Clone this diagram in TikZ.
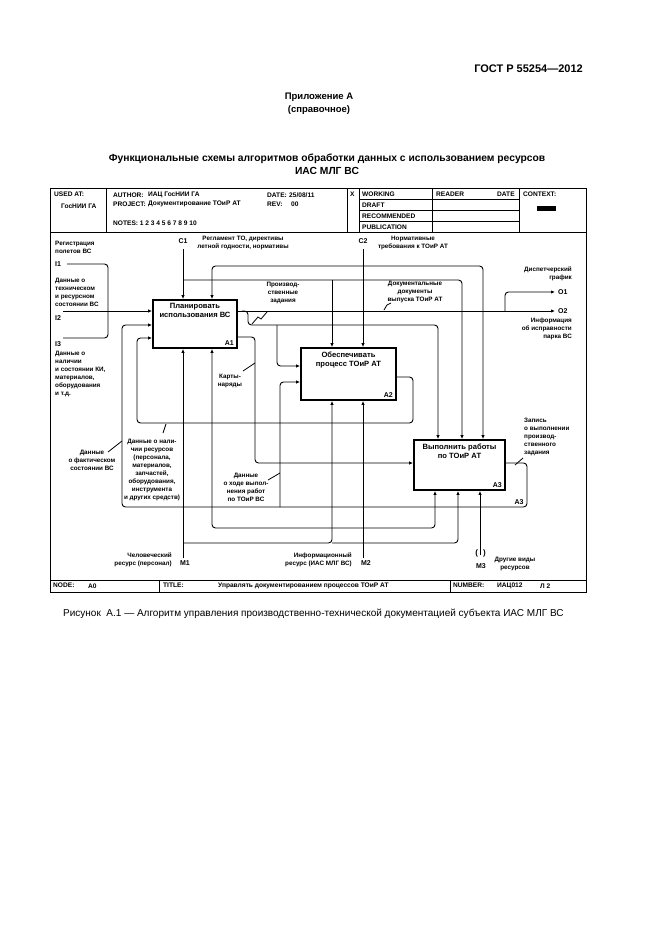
\documentclass[tikz,border=0pt]{standalone}
\usepackage{fontspec}
\setmainfont{Liberation Sans}
\usetikzlibrary{arrows.meta}
\begin{document}
\begin{tikzpicture}[x=1pt,y=-1pt,
  lbl/.style={font=\bfseries\fontsize{6.3}{8}\selectfont, inner sep=0pt, align=center},
  hdr/.style={font=\bfseries\fontsize{6.6}{7.5}\selectfont, inner sep=0pt, anchor=west},
  boxtxt/.style={font=\bfseries\fontsize{7.6}{9}\selectfont, inner sep=0pt, align=center},
  icom/.style={font=\bfseries\fontsize{7}{8}\selectfont, inner sep=0pt},
  box/.style={draw, line width=1.8pt, inner sep=0pt},
  flow/.style={line width=0.9pt, rounded corners=3.5pt},
  arr/.style={-{Latex[length=4pt,width=3.4pt]}},
  lead/.style={line width=0.8pt},
  frm/.style={line width=0.9pt}]
\path[fill=white, use as bounding box] (0,0) rectangle (661,935);

% ---------- page text ----------
\node[font=\bfseries\fontsize{11}{13}\selectfont, anchor=east, inner sep=0] (gost) at (583,69) {ГОСТ Р 55254—2012};
\node[font=\bfseries\fontsize{9.5}{13}\selectfont, align=center, inner sep=0] (app) at (319,103.5) {Приложение А\\(справочное)};
\node[font=\bfseries\fontsize{10.3}{13}\selectfont, align=center, inner sep=0] (title) at (327,164.5) {Функциональные схемы алгоритмов обработки данных с использованием ресурсов\\ИАС МЛГ ВС};
\node[font=\fontsize{10}{12}\selectfont, anchor=west, inner sep=0] (cap) at (63,614) {Рисунок~~А.1 — Алгоритм управления производственно-технической документацией субъекта ИАС МЛГ ВС};

% ---------- frame ----------
\draw[frm] (50,188) rectangle (586,592);
\draw[frm] (50,232) -- (586,232);
\foreach \xx in {106,347,359,432,519} \draw[frm] (\xx,188) -- (\xx,232);
\foreach \yy in {199.5,210.5,221.5} \draw[frm] (359,\yy) -- (519,\yy);
\draw[frm] (50,580) -- (586,580);
\draw[frm] (159,580) -- (159,592);
\draw[frm] (450,580) -- (450,592);

\node[hdr] (h1) at (54,194) {USED AT:};
\node[hdr] (h2) at (61,206) {ГосНИИ ГА};
\node[hdr] (h3) at (113,195) {AUTHOR:};
\node[hdr] (h4) at (148,195) {ИАЦ ГосНИИ ГА};
\node[hdr] (h5) at (113,204) {PROJECT:};
\node[hdr] (h6) at (148,204) {Документирование ТОиР АТ};
\node[hdr] (h7) at (113,223) {NOTES: 1 2 3 4 5 6 7 8 9 10};
\node[hdr] (h8) at (267,195) {DATE:};
\node[hdr] (h9) at (289,195) {25/08/11};
\node[hdr] (h10) at (267,204) {REV:};
\node[hdr] (h11) at (291,204) {00};
\node[hdr] (h12) at (350,194) {X};
\node[hdr] (h13) at (362,194) {WORKING};
\node[hdr] (h14) at (362,205) {DRAFT};
\node[hdr] (h15) at (362,216) {RECOMMENDED};
\node[hdr] (h16) at (362,227) {PUBLICATION};
\node[hdr] (h17) at (436,194) {READER};
\node[hdr] (h18) at (497,194) {DATE};
\node[hdr] (h19) at (523,194) {CONTEXT:};
\fill (537,206) rectangle (556,211);
\node[hdr] (b1) at (53,585.5) {NODE:};
\node[hdr] (b2) at (88,586) {A0};
\node[hdr] (b3) at (163,585.5) {TITLE:};
\node[hdr] (b4) at (218,586) {Управлять документированием процессов ТОиР АТ};
\node[hdr] (b5) at (453,585.5) {NUMBER:};
\node[hdr] (b6) at (497,586) {ИАЦ012};
\node[hdr] (b7) at (540,586) {Л 2};

% ---------- boxes ----------
\node[box, minimum width=84pt, minimum height=48pt] (A1) at (195,324) {};
\node[boxtxt, anchor=north] (A1t) at (195,303) {Планировать\\использования ВС};
\node[icom, anchor=south east] (A1n) at (234,346) {A1};
\node[box, minimum width=95pt, minimum height=52pt] (A2) at (348.5,374) {};
\node[boxtxt, anchor=north] (A2t) at (348.5,352) {Обеспечивать\\процесс ТОиР АТ};
\node[icom, anchor=south east] (A2n) at (393,398) {A2};
\node[box, minimum width=91pt, minimum height=50pt] (A3) at (459.5,465) {};
\node[boxtxt, anchor=north] (A3t) at (459.5,444) {Выполнить работы\\по ТОиР АТ};
\node[icom, anchor=south east] (A3n) at (502,488) {A3};

% ---------- helper coordinates ----------
\coordinate (xa1c2) at (212,0);
\coordinate (xa2c1) at (332,0);
\coordinate (xa3p) at (438,0);
\coordinate (xa3c1) at (462,0);
\coordinate (xa3c2) at (483,0);
\coordinate (xa1m2) at (212,0);
\coordinate (xa2m1) at (332,0);
\coordinate (xa3m2) at (435,0);
\coordinate (xa3m1) at (458,0);
\coordinate (xk) at (255,0);
\coordinate (xl2) at (413,0);
\coordinate (xr2) at (137,0);
\coordinate (xl3) at (527,0);
\coordinate (xr3) at (122,0);
\coordinate (xb) at (280,0);
\coordinate (xm) at (108,0);
\coordinate (a1i2) at (0,325);
\coordinate (a1i3) at (0,338);
\coordinate (a1o2) at (0,337);
\coordinate (a2i1) at (0,366);
\coordinate (a2i2) at (0,382);
\coordinate (a2o) at (0,377);
\coordinate (a3i) at (0,463);
\coordinate (a3o) at (0,463);
\coordinate (yl2) at (0,423);
\coordinate (yl3) at (0,507);
\coordinate (ym2) at (0,528);
\coordinate (ym1) at (0,543);

% ---------- controls ----------
\coordinate (C1s) at (183,249);
\coordinate (C1j) at (183,280);
\draw[flow,arr] (C1s) -- (A1.north -| C1s);
\draw[flow,arr] (C1j) -| (A3.north -| xa3c1);
\draw[flow,arr] (C1j -| xa2c1) -- (A2.north -| xa2c1);
\coordinate (C2s) at (363,249);
\coordinate (C2j) at (363,266);
\draw[flow,arr] (C2s) -- (A2.north -| C2s);
\draw[flow,arr] (C2j) -| (A1.north -| xa1c2);
\draw[flow,arr] (C2j) -| (A3.north -| xa3c2);

% ---------- inputs ----------
\coordinate (I1s) at (67,264);
\coordinate (I2s) at (63,311);
\coordinate (I3s) at (63,338);
\draw[flow,arr] (I2s) -- (A1.west |- I2s);
\draw[flow] (I1s) -| (xm |- I2s);
\draw[flow] (I3s) -| (xm |- I2s);

% ---------- outputs of A1 ----------
\coordinate (O2e) at (555,311);
\coordinate (O1e) at (555,292);
\coordinate (oj) at (505,311);
\draw[flow,arr] (A1.east |- O2e) -- (O2e);
\draw[flow,arr] (oj) |- (O1e);
\coordinate (pz) at (242,311);
\draw[flow,arr] (pz) -- (248,311) -- (248,325) -| (A3.north -| xa3p);
\draw[flow,arr] (277,325) |- (A2.west |- a2i1);
\draw[flow,arr] (A1.east |- a1o2) -| (xk |- a3i) -- (A3.west |- a3i);

% ---------- feedback loops ----------
\draw[flow,arr] (A2.east |- a2o) -| (xl2 |- yl2) -| (xr2 |- a1i3) -- (A1.west |- a1i3);
\draw[flow,arr] (A3.east |- a3o) -| (xl3 |- yl3) -| (xr3 |- a1i2) -- (A1.west |- a1i2);
\draw[flow,arr] (xb |- yl3) |- (A2.west |- a2i2);

% ---------- mechanisms ----------
\coordinate (M1s) at (183,558);
\coordinate (M2s) at (363,558);
\coordinate (M3s) at (480,555);
\draw[flow,arr] (M1s) -- (A1.south -| M1s);
\draw[flow,arr] (M2s) -- (A2.south -| M2s);
\draw[flow,arr] (M3s) -- (A3.south -| M3s);
\draw[flow,arr] (M2s |- ym2) -| (A1.south -| xa1m2);
\draw[flow,arr] (M2s |- ym2) -| (A3.south -| xa3m2);
\draw[flow,arr] (M1s |- ym1) -| (A2.south -| xa2m1);
\draw[flow,arr] (xa2m1 |- ym1) -| (A3.south -| xa3m1);
\node[font=\bfseries\fontsize{8}{8}\selectfont, inner sep=0] (tun) at (480.5,553) {(\hspace{5pt})};

% ---------- ICOM codes ----------
\node[icom] (lc1) at (183,241) {C1};
\node[icom] (lc2) at (363,241) {C2};
\node[icom, anchor=west] (li1) at (55,264) {I1};
\node[icom, anchor=west] (li2) at (55,318) {I2};
\node[icom, anchor=west] (li3) at (55,344) {I3};
\node[icom, anchor=west] (lo1) at (558,292) {O1};
\node[icom, anchor=west] (lo2) at (558,311) {O2};
\node[icom] (lm1) at (185,563) {M1};
\node[icom] (lm2) at (366,563) {M2};
\node[icom] (lm3) at (481,566) {M3};
\node[icom] (la3) at (519,502) {A3};

% ---------- arrow labels ----------
\node[lbl] (t1) at (243,243) {Регламент ТО, директивы\\летной годности, нормативы};
\node[lbl] (t2) at (413,243) {Нормативные\\требования к ТОиР АТ};
\node[lbl, align=left, anchor=west] (t3) at (55,247) {Регистрация\\полетов ВС};
\node[lbl, align=left, anchor=west] (t4) at (55,292.5) {Данные о\\техническом\\и ресурсном\\состоянии ВС};
\node[lbl, align=left, anchor=west] (t5) at (55,374) {Данные о\\наличии\\и состоянии КИ,\\материалов,\\оборудования\\и т.д.};
\node[lbl] (t6) at (283,293) {Производ-\\ственные\\задания};
\node[lbl] (t7) at (415,292) {Документальные\\документы\\выпуска ТОиР АТ};
\node[lbl, align=right, anchor=east] (t8) at (572,274) {Диспетчерский\\график};
\node[lbl, align=right, anchor=east] (t9) at (572,329) {Информация\\об исправности\\парка ВС};
\node[lbl] (t10) at (230,381) {Карты-\\наряды};
\node[lbl] (t11) at (152,470) {Данные о нали-\\чии ресурсов\\(персонала,\\материалов,\\запчастей,\\оборудования,\\инструмента\\и других средств)};
\node[lbl] (t12) at (92,460) {Данные\\о фактическом\\состоянии ВС};
\node[lbl] (t13) at (246,487) {Данные\\о ходе выпол-\\нения работ\\по ТОиР ВС};
\node[lbl, align=left, anchor=west] (t14) at (524,437) {Запись\\о выполнении\\производ-\\ственного\\задания};
\node[lbl, align=right, anchor=east] (t15) at (172,560) {Человеческий\\ресурс (персонал)};
\node[lbl, align=right, anchor=east] (t16) at (352,560) {Информационный\\ресурс (ИАС МЛГ ВС)};
\node[lbl] (t17) at (515,564) {Другие виды\\ресурсов};

% ---------- leaders ----------
\draw[lead] (252,324) -- (258,317) -- (261,319) -- (267,312);
\draw[lead] (384,310) -- (387,305) -- (391,303);
\draw[lead] (243,371) -- (255,363);
\draw[lead] (163,433) -- (166,424);
\draw[lead] (108,452) -- (122,441);
\draw[lead] (268,480) -- (280,473);
\draw[lead] (515,465) -- (523,458);
\end{tikzpicture}
\end{document}
